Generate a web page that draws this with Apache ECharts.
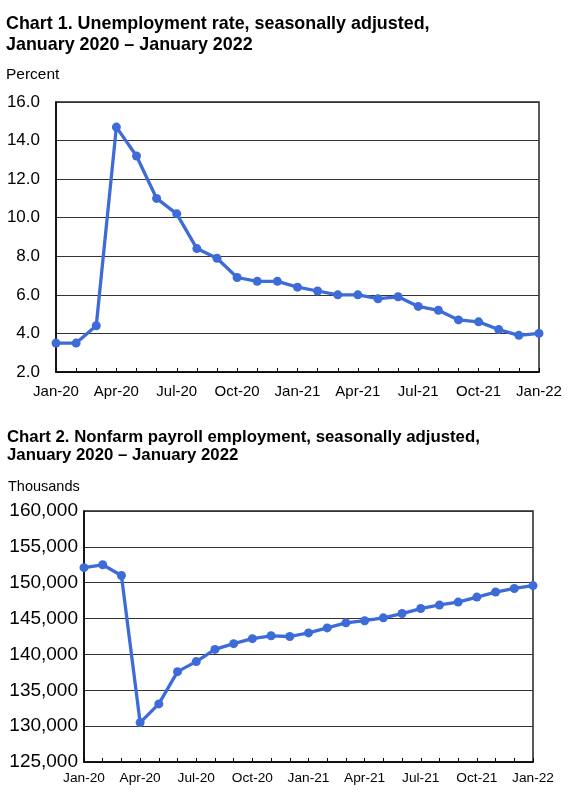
<!DOCTYPE html>
<html>
<head>
<meta charset="utf-8">
<script src="https://cdn.jsdelivr.net/npm/echarts@6/dist/echarts.min.js"></script>
<style>
html,body{margin:0;padding:0;background:#fff;}
#c{width:568px;height:796px;}
</style>
</head>
<body>
<div id="c"></div>
<script>
var months = ['Jan-20','Feb-20','Mar-20','Apr-20','May-20','Jun-20','Jul-20','Aug-20','Sep-20','Oct-20','Nov-20','Dec-20',
  'Jan-21','Feb-21','Mar-21','Apr-21','May-21','Jun-21','Jul-21','Aug-21','Sep-21','Oct-21','Nov-21','Dec-21','Jan-22'];
var unemploymentRate = [3.5,3.5,4.4,14.7,13.2,11.0,10.2,8.4,7.9,6.9,6.7,6.7,6.4,6.2,6.0,6.0,5.8,5.9,5.4,5.2,4.7,4.6,4.2,3.9,4.0];
var payrollEmployment = [152100,152500,151000,130500,133100,137600,139000,140700,141500,142200,142600,142500,
  143000,143700,144400,144700,145100,145700,146400,146900,147300,148000,148700,149200,149600];
var rateTicks = {min:2, max:16, interval:2};
var payrollTicks = {min:125000, max:160000, interval:5000};
var title1 = 'Chart 1. Unemployment rate, seasonally adjusted,\nJanuary 2020 \u2013 January 2022';
var title2 = 'Chart 2. Nonfarm payroll employment, seasonally adjusted,\nJanuary 2020 \u2013 January 2022';
var unit1 = 'Percent';
var unit2 = 'Thousands';

var FONT = '"Liberation Sans", Arial, Helvetica, sans-serif';
var BLUE = '#3d6bd8';
var chart = echarts.init(document.getElementById('c'), null, {renderer:'canvas'});

function xAxisCfg(gridIndex, fontSize, margin){
  return {
    type:'category', gridIndex:gridIndex, data:months, boundaryGap:false,
    axisLine:{show:true, lineStyle:{color:'#000', width:1.5}},
    axisTick:{show:true, inside:true, length:4, interval:0, lineStyle:{color:'#000', width:1}},
    axisLabel:{interval:2, color:'#000', fontFamily:FONT, fontSize:fontSize, margin:margin, showMaxLabel:true},
    splitLine:{show:false}
  };
}
function yAxisCfg(gridIndex, ticks, fontSize, margin, fmt){
  return {
    type:'value', gridIndex:gridIndex, min:ticks.min, max:ticks.max, interval:ticks.interval,
    axisLine:{show:true, lineStyle:{color:'#000', width:1.5}},
    axisTick:{show:false},
    axisLabel:{color:'#000', fontFamily:FONT, fontSize:fontSize, margin:margin, formatter:fmt},
    splitLine:{show:true, lineStyle:{color:'#333', width:1}}
  };
}

chart.setOption({
  animation:false,
  backgroundColor:'#fff',
  title:[
    {text:title1, left:6, top:14, padding:0, textStyle:{fontFamily:FONT, fontSize:17.9, fontWeight:'bold', color:'#000', lineHeight:21}},
    {text:unit1, left:6, top:67, padding:0, textStyle:{fontFamily:FONT, fontSize:15.5, fontWeight:'normal', color:'#000'}},
    {text:title2, left:7, top:428, padding:0, textStyle:{fontFamily:FONT, fontSize:16.8, fontWeight:'bold', color:'#000', lineHeight:18.5}},
    {text:unit2, left:8, top:479, padding:0, textStyle:{fontFamily:FONT, fontSize:14.5, fontWeight:'normal', color:'#000'}}
  ],
  grid:[
    {left:56, right:29, top:102, height:270, show:true, borderColor:'#222', borderWidth:1.5, backgroundColor:'transparent', containLabel:false},
    {left:84, right:35, top:511, height:251, show:true, borderColor:'#222', borderWidth:1.5, backgroundColor:'transparent', containLabel:false}
  ],
  xAxis:[ xAxisCfg(0, 15, 12), xAxisCfg(1, 13.7, 9.5) ],
  yAxis:[
    yAxisCfg(0, rateTicks, 17, 16, function(v){return v.toFixed(1);}),
    yAxisCfg(1, payrollTicks, 19, 6, function(v){return v.toLocaleString('en-US');})
  ],
  series:[
    {type:'line', xAxisIndex:0, yAxisIndex:0, data:unemploymentRate, symbol:'circle', symbolSize:9,
      lineStyle:{color:BLUE, width:3.3}, itemStyle:{color:BLUE}},
    {type:'line', xAxisIndex:1, yAxisIndex:1, data:payrollEmployment, symbol:'circle', symbolSize:9,
      lineStyle:{color:BLUE, width:3.3}, itemStyle:{color:BLUE}}
  ]
});
</script>
</body>
</html>
